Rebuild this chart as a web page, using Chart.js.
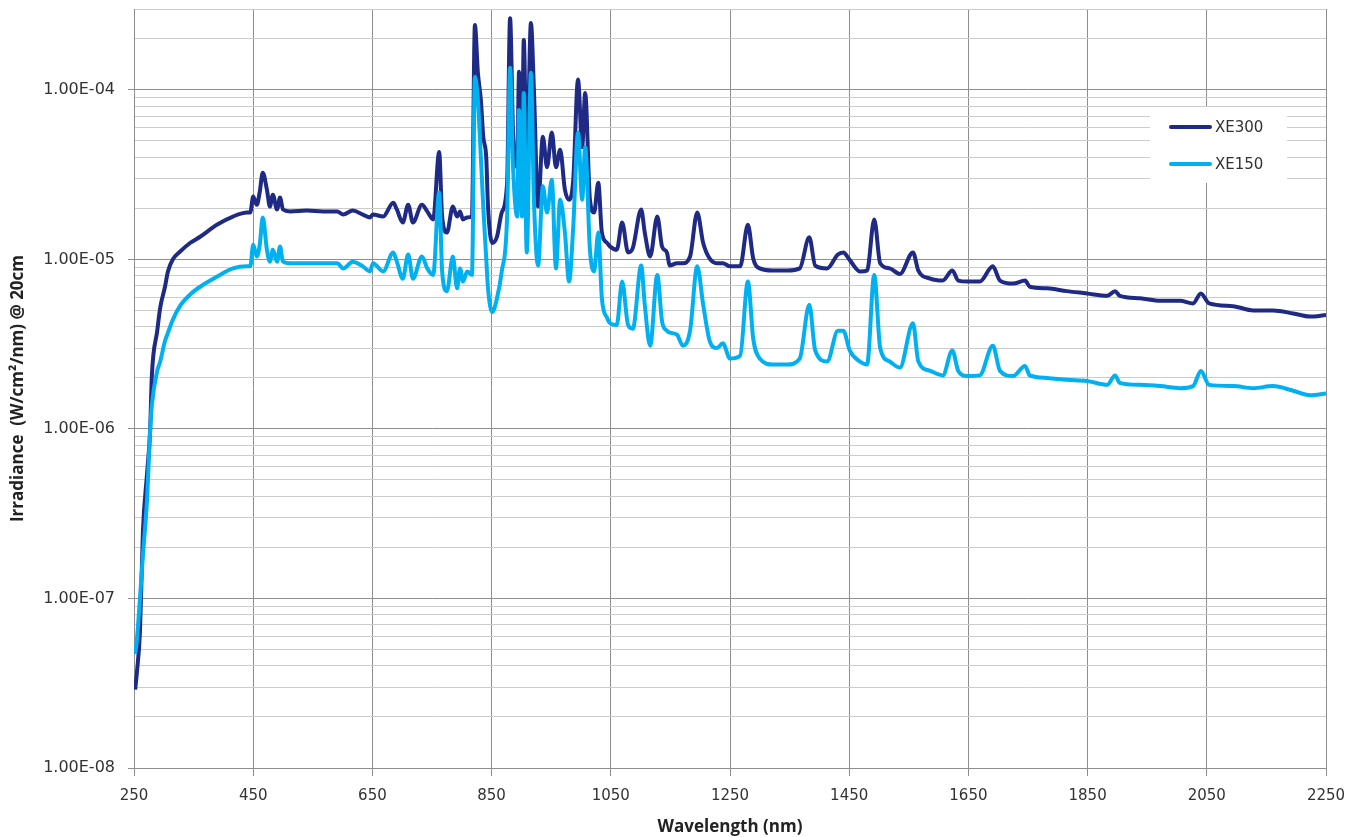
<!DOCTYPE html>
<html>
<head>
<meta charset="utf-8">
<title>Xenon lamp irradiance</title>
<script src="https://cdn.jsdelivr.net/npm/chart.js@4.4.1/dist/chart.umd.min.js"></script>
<style>
  body { margin: 0; background: #ffffff; }
  canvas { display: block; }
</style>
</head>
<body>
<canvas id="spectrum" width="1361" height="837"></canvas>
<script>
// wavelength (nm) shared by both lamps
const wavelengths = [
  252, 255, 260, 265, 272, 277, 280, 289, 294, 302,
  307, 315, 327, 344, 361, 389, 416, 440, 445, 450,
  456, 461, 466, 473, 478, 483, 490, 495, 500, 512,
  540, 567, 591, 601, 617, 634, 646, 651, 668, 685,
  691, 701, 710, 718, 733, 742, 752, 762, 767, 775,
  785, 792, 797, 802, 809, 817, 822, 827, 832, 836,
  841, 844, 851, 859, 867, 876, 881, 886, 893, 896,
  901, 904, 909, 916, 921, 928, 936, 943, 951, 958,
  965, 973, 980, 987, 995, 1002, 1007, 1015, 1022, 1029,
  1035, 1044, 1049, 1060, 1069, 1079, 1087, 1101, 1107, 1116,
  1128, 1136, 1144, 1149, 1161, 1171, 1183, 1195, 1205, 1216,
  1228, 1238, 1250, 1267, 1280, 1289, 1300, 1322, 1346, 1367,
  1383, 1393, 1413, 1431, 1440, 1451, 1468, 1480, 1492, 1502,
  1518, 1535, 1557, 1566, 1586, 1607, 1623, 1633, 1648, 1669,
  1691, 1703, 1725, 1745, 1753, 1782, 1815, 1849, 1883, 1896,
  1904, 1938, 1972, 2005, 2027, 2040, 2054, 2094, 2128, 2161,
  2195, 2223, 2250
];

// irradiance W/cm2/nm @ 20cm
const xe300 = [
  2.9e-8, 3.7e-8, 6.4e-8, 2.5e-7, 5.5e-7, 9.7e-7, 2.07e-6, 3.8e-6, 5.2e-6, 6.9e-6,
  8.5e-6, 1.0e-5, 1.11e-5, 1.25e-5, 1.36e-5, 1.6e-5, 1.79e-5, 1.89e-5, 1.89e-5, 2.35e-5,
  2.1e-5, 2.5e-5, 3.25e-5, 2.58e-5, 2.05e-5, 2.41e-5, 1.97e-5, 2.32e-5, 1.97e-5, 1.92e-5,
  1.94e-5, 1.92e-5, 1.92e-5, 1.84e-5, 1.94e-5, 1.84e-5, 1.77e-5, 1.84e-5, 1.79e-5, 2.16e-5,
  1.97e-5, 1.65e-5, 2.1e-5, 1.65e-5, 2.1e-5, 1.92e-5, 1.72e-5, 4.3e-5, 1.79e-5, 1.44e-5,
  2.05e-5, 1.79e-5, 1.92e-5, 1.72e-5, 1.77e-5, 1.79e-5, 2.41e-4, 1.26e-4, 8.7e-5, 5.3e-5,
  4.0e-5, 2.05e-5, 1.25e-5, 1.36e-5, 1.89e-5, 2.83e-5, 2.65e-4, 5.6e-5, 3.5e-5, 1.28e-4,
  4.43e-5, 1.97e-4, 3.5e-5, 2.48e-4, 1.0e-4, 2.05e-5, 5.3e-5, 3.5e-5, 5.6e-5, 3.5e-5,
  4.43e-5, 2.58e-5, 2.25e-5, 2.95e-5, 1.15e-4, 4.6e-5, 9.6e-5, 2.25e-5, 1.89e-5, 2.83e-5,
  1.44e-5, 1.25e-5, 1.19e-5, 1.14e-5, 1.65e-5, 1.10e-5, 1.17e-5, 1.97e-5, 1.44e-5, 1.04e-5,
  1.79e-5, 1.19e-5, 1.10e-5, 9.2e-6, 9.5e-6, 9.5e-6, 1.04e-5, 1.89e-5, 1.25e-5, 1.01e-5,
  9.5e-6, 9.5e-6, 9.1e-6, 9.1e-6, 1.6e-5, 1.01e-5, 8.85e-6, 8.6e-6, 8.6e-6, 8.85e-6,
  1.35e-5, 9.2e-6, 8.85e-6, 1.07e-5, 1.10e-5, 9.9e-6, 8.5e-6, 8.6e-6, 1.72e-5, 9.5e-6,
  8.85e-6, 8.2e-6, 1.10e-5, 8.6e-6, 7.7e-6, 7.5e-6, 8.6e-6, 7.5e-6, 7.4e-6, 7.4e-6,
  9.1e-6, 7.5e-6, 7.2e-6, 7.5e-6, 6.9e-6, 6.75e-6, 6.5e-6, 6.3e-6, 6.1e-6, 6.5e-6,
  6.1e-6, 5.9e-6, 5.7e-6, 5.7e-6, 5.5e-6, 6.3e-6, 5.5e-6, 5.3e-6, 5.0e-6, 5.0e-6,
  4.8e-6, 4.6e-6, 4.7e-6
];

const xe150 = [
  4.7e-8, 5.8e-8, 1.0e-7, 1.8e-7, 3.9e-7, 9.7e-7, 1.39e-6, 2.2e-6, 2.5e-6, 3.3e-6,
  3.7e-6, 4.4e-6, 5.3e-6, 6.2e-6, 6.9e-6, 7.9e-6, 8.85e-6, 9.1e-6, 9.1e-6, 1.22e-5,
  1.04e-5, 1.22e-5, 1.77e-5, 1.14e-5, 9.7e-6, 1.14e-5, 9.7e-6, 1.19e-5, 9.7e-6, 9.5e-6,
  9.5e-6, 9.5e-6, 9.5e-6, 8.85e-6, 9.7e-6, 9.1e-6, 8.5e-6, 9.5e-6, 8.5e-6, 1.10e-5,
  9.7e-6, 7.7e-6, 1.07e-5, 7.7e-6, 1.04e-5, 8.85e-6, 8.1e-6, 2.48e-5, 8.5e-6, 6.5e-6,
  1.04e-5, 6.75e-6, 8.85e-6, 7.4e-6, 8.5e-6, 8.1e-6, 1.19e-4, 8.7e-5, 4.0e-5, 2.05e-5,
  1.01e-5, 6.75e-6, 4.9e-6, 5.9e-6, 8.5e-6, 1.79e-5, 1.35e-4, 3.5e-5, 1.79e-5, 7.6e-5,
  1.79e-5, 9.6e-5, 1.10e-5, 1.26e-4, 2.25e-5, 9.2e-6, 2.7e-5, 1.89e-5, 2.95e-5, 8.85e-6,
  2.25e-5, 1.44e-5, 7.4e-6, 1.56e-5, 5.6e-5, 2.25e-5, 4.6e-5, 1.14e-5, 8.5e-6, 1.44e-5,
  5.9e-6, 4.5e-6, 4.2e-6, 4.1e-6, 7.4e-6, 4.1e-6, 3.9e-6, 9.2e-6, 5.4e-6, 3.1e-6,
  8.1e-6, 4.3e-6, 3.8e-6, 3.7e-6, 3.6e-6, 3.1e-6, 3.8e-6, 9.1e-6, 5.4e-6, 3.3e-6,
  3.0e-6, 3.2e-6, 2.6e-6, 2.7e-6, 7.4e-6, 3.4e-6, 2.6e-6, 2.4e-6, 2.4e-6, 2.6e-6,
  5.4e-6, 2.9e-6, 2.5e-6, 3.8e-6, 3.8e-6, 2.9e-6, 2.5e-6, 2.4e-6, 8.1e-6, 3.0e-6,
  2.5e-6, 2.3e-6, 4.2e-6, 2.5e-6, 2.2e-6, 2.07e-6, 2.9e-6, 2.2e-6, 2.05e-6, 2.07e-6,
  3.1e-6, 2.2e-6, 2.05e-6, 2.35e-6, 2.07e-6, 2.0e-6, 1.95e-6, 1.92e-6, 1.82e-6, 2.07e-6,
  1.87e-6, 1.82e-6, 1.79e-6, 1.74e-6, 1.79e-6, 2.2e-6, 1.82e-6, 1.79e-6, 1.74e-6, 1.79e-6,
  1.68e-6, 1.58e-6, 1.62e-6
];

// axis ticks
const xTicks = [250, 450, 650, 850, 1050, 1250, 1450, 1650, 1850, 2050, 2250];
const yDecades = [1e-8, 1e-7, 1e-6, 1e-5, 1e-4];
const yMin = 1e-8;
const yMax = 3e-4;

const DARK = '#1f2a85';
const LIGHT = '#00b0f0';

function isDecade(v) {
  let l = Math.log10(v);
  return Math.abs(l - Math.round(l)) < 1e-6;
}

function sciLabel(v) {
  let exp = Math.round(Math.log10(v));
  let sign = exp < 0 ? '-' : '+';
  return '1.00E' + sign + String(Math.abs(exp)).padStart(2, '0');
}

// all 1..9 x 10^n lines between min and max (excel style minor grid)
function logGridValues() {
  let out = [];
  for (let d of yDecades) {
    for (let m = 1; m <= 9; m++) {
      let v = parseFloat((m * d).toPrecision(3));
      if (v <= yMax * 1.0001) out.push(v);
    }
  }
  return out;
}

function toPoints(ys) {
  return wavelengths.map((w, i) => ({x: w, y: ys[i]}));
}

// legend drawn as a white box inside the plot, like the original
const legendBox = {
  id: 'legendBox',
  afterDatasetsDraw(chart) {
    let ctx = chart.ctx;
    let area = chart.chartArea;
    let left = area.right - 176;
    let top = area.top + 98;
    ctx.save();
    ctx.fillStyle = '#ffffff';
    ctx.fillRect(left, top, 137, 76);
    let items = chart.data.datasets.slice().sort((a, b) => a.legendIndex - b.legendIndex);
    items.forEach((ds, i) => {
      let y = top + 20 + i * 37;
      ctx.strokeStyle = ds.borderColor;
      ctx.lineWidth = 4;
      ctx.lineCap = 'round';
      ctx.beginPath();
      ctx.moveTo(left + 21, y);
      ctx.lineTo(left + 60, y);
      ctx.stroke();
      ctx.fillStyle = '#333333';
      ctx.font = '15px "DejaVu Sans"';
      ctx.textBaseline = 'middle';
      ctx.fillText(ds.label, left + 65, y + 1);
    });
    ctx.restore();
  }
};

let chart = new Chart(document.getElementById('spectrum'), {
  type: 'line',
  data: {
    datasets: [
      {
        label: 'XE300',
        legendIndex: 0,
        data: toPoints(xe300),
        borderColor: DARK,
        backgroundColor: DARK,
        borderWidth: 4,
        pointRadius: 0,
        cubicInterpolationMode: 'monotone',
        order: 2
      },
      {
        label: 'XE150',
        legendIndex: 1,
        data: toPoints(xe150),
        borderColor: LIGHT,
        backgroundColor: LIGHT,
        borderWidth: 4,
        pointRadius: 0,
        cubicInterpolationMode: 'monotone',
        order: 1
      }
    ]
  },
  options: {
    responsive: false,
    animation: false,
    devicePixelRatio: 1,
    layout: {
      padding: {left: 0, right: 35, top: 9, bottom: 0}
    },
    plugins: {
      legend: {display: false},
      tooltip: {enabled: false}
    },
    scales: {
      x: {
        type: 'linear',
        min: 250,
        max: 2250,
        afterBuildTicks: (scale) => {
          scale.ticks = xTicks.map(v => ({value: v}));
        },
        afterFit: (scale) => {
          scale.height = 69;
        },
        ticks: {
          autoSkip: false,
          maxRotation: 0,
          padding: 11,
          color: '#333333',
          font: {family: 'DejaVu Sans', size: 15},
          callback: (v) => String(v)
        },
        grid: {
          color: '#8e8e8e',
          lineWidth: 1,
          tickLength: 8,
          tickColor: '#8e8e8e'
        },
        border: {color: '#8e8e8e', width: 1},
        title: {
          display: true,
          text: 'Wavelength (nm)',
          color: '#222222',
          font: {family: 'Open Sans', size: 17, weight: 'bold'},
          padding: {top: 0, bottom: 0}
        }
      },
      y: {
        type: 'logarithmic',
        min: yMin,
        max: yMax,
        afterBuildTicks: (scale) => {
          scale.ticks = logGridValues().map(v => ({value: v, major: isDecade(v)}));
        },
        afterFit: (scale) => {
          scale.width = 134;
          scale.paddingTop = 0;
          scale.paddingBottom = 0;
        },
        ticks: {
          autoSkip: false,
          padding: 13,
          color: '#333333',
          font: {family: 'DejaVu Sans', size: 16},
          callback: (v) => isDecade(v) ? sciLabel(v) : ''
        },
        grid: {
          color: (ctx) => (ctx.tick && isDecade(ctx.tick.value)) ? '#8e8e8e' : '#cccccc',
          lineWidth: 1,
          tickLength: 6,
          tickColor: (ctx) => (ctx.tick && isDecade(ctx.tick.value)) ? '#8e8e8e' : 'rgba(0,0,0,0)'
        },
        border: {color: '#8e8e8e', width: 1},
        title: {
          display: true,
          text: 'Irradiance  (W/cm\u00b2/nm) @ 20cm',
          color: '#222222',
          font: {family: 'Open Sans', size: 17, weight: 'bold'},
          padding: {top: 8, bottom: 0}
        }
      }
    }
  },
  plugins: [legendBox]
});
</script>
</body>
</html>
